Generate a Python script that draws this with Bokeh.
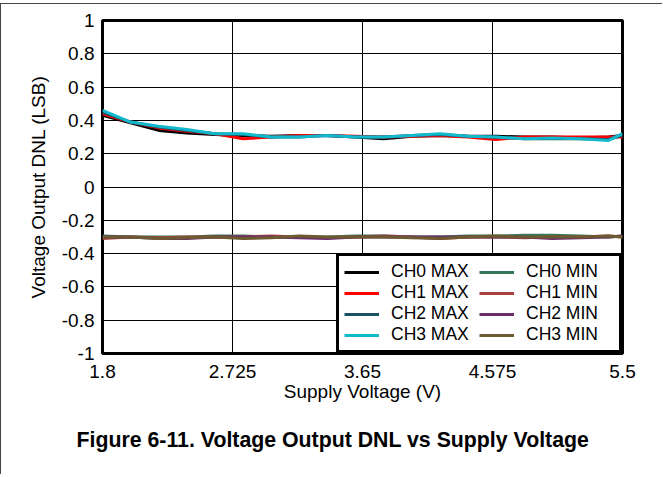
from bokeh.plotting import figure
from bokeh.models import FixedTicker, Legend, LegendItem, Title
from bokeh.embed import file_html
from bokeh.resources import INLINE

# ---- data ----
voltage = [1.8, 2.0, 2.2, 2.4, 2.6, 2.8, 3.0, 3.2, 3.4, 3.6, 3.8, 4.0, 4.2, 4.4, 4.6, 4.8, 5.0, 5.2, 5.4, 5.5]

ch0_max = [0.43, 0.385, 0.34, 0.325, 0.315, 0.31, 0.305, 0.31, 0.31, 0.30, 0.29, 0.305, 0.31, 0.305, 0.305, 0.30, 0.30, 0.295, 0.30, 0.31]
ch1_max = [0.44, 0.39, 0.355, 0.335, 0.32, 0.29, 0.30, 0.31, 0.31, 0.305, 0.30, 0.305, 0.31, 0.30, 0.285, 0.30, 0.30, 0.30, 0.30, 0.30]
ch2_max = [0.45, 0.39, 0.36, 0.34, 0.32, 0.315, 0.30, 0.30, 0.31, 0.30, 0.30, 0.31, 0.315, 0.305, 0.30, 0.29, 0.29, 0.29, 0.285, 0.31]
ch3_max = [0.46, 0.39, 0.365, 0.345, 0.32, 0.32, 0.30, 0.30, 0.31, 0.30, 0.30, 0.31, 0.32, 0.305, 0.30, 0.29, 0.295, 0.29, 0.28, 0.32]

ch0_min = [-0.295, -0.30, -0.30, -0.30, -0.295, -0.295, -0.30, -0.30, -0.30, -0.295, -0.295, -0.30, -0.30, -0.295, -0.295, -0.29, -0.29, -0.295, -0.30, -0.295]
ch1_min = [-0.31, -0.30, -0.305, -0.30, -0.30, -0.30, -0.295, -0.30, -0.305, -0.30, -0.295, -0.30, -0.31, -0.30, -0.30, -0.305, -0.30, -0.30, -0.295, -0.30]
ch2_min = [-0.30, -0.30, -0.31, -0.31, -0.30, -0.30, -0.30, -0.305, -0.31, -0.30, -0.30, -0.30, -0.30, -0.30, -0.30, -0.30, -0.31, -0.305, -0.30, -0.295]
ch3_min = [-0.30, -0.30, -0.31, -0.305, -0.30, -0.31, -0.305, -0.295, -0.30, -0.30, -0.30, -0.305, -0.31, -0.30, -0.295, -0.30, -0.30, -0.30, -0.295, -0.30]

series_names = ["CH0 MAX", "CH1 MAX", "CH2 MAX", "CH3 MAX", "CH0 MIN", "CH1 MIN", "CH2 MIN", "CH3 MIN"]
series_values = [ch0_max, ch1_max, ch2_max, ch3_max, ch0_min, ch1_min, ch2_min, ch3_min]
series_colors = ["#000000", "#FF0000", "#1B5062", "#12B8CC", "#34795A", "#A8423C", "#6A2D6C", "#6E5A30"]

x_ticks = [1.8, 2.725, 3.65, 4.575, 5.5]
x_tick_labels = ["1.8", "2.725", "3.65", "4.575", "5.5"]
y_ticks = [-1, -0.8, -0.6, -0.4, -0.2, 0, 0.2, 0.4, 0.6, 0.8, 1]
y_tick_labels = ["-1", "-0.8", "-0.6", "-0.4", "-0.2", "0", "0.2", "0.4", "0.6", "0.8", "1"]

x_title = "Supply Voltage (V)"
y_title = "Voltage Output DNL (LSB)"
caption = "Figure 6-11. Voltage Output DNL vs Supply Voltage"

FONT = "Liberation Sans"

p = figure(width=662, height=471, x_range=(1.8, 5.5), y_range=(-1, 1),
           output_backend="svg", toolbar_location=None,
           min_border_left=101, min_border_right=41, min_border_top=16, min_border_bottom=122)
# page frame lines (top and left) drawn as a shadow so that they take no layout space
p.styles = {"position": "absolute", "left": "1px", "top": "4px",
            "box-shadow": "-1px -1px 0px 0px #444444"}

p.background_fill_color = "white"
p.border_fill_color = "white"
p.outline_line_color = "black"
p.outline_line_width = 3

# axes
p.xaxis.ticker = FixedTicker(ticks=x_ticks)
p.yaxis.ticker = FixedTicker(ticks=y_ticks)
p.xaxis.major_label_overrides = dict(zip(x_ticks, x_tick_labels))
p.yaxis.major_label_overrides = dict(zip(y_ticks, y_tick_labels))
for ax in (p.xaxis, p.yaxis):
    ax.axis_line_color = None
    ax.major_tick_line_color = None
    ax.minor_tick_line_color = None
    ax.major_tick_out = 0
    ax.major_tick_in = 0
    ax.major_label_text_font = FONT
    ax.major_label_text_font_size = "19px"
    ax.major_label_text_color = "black"
    ax.axis_label_text_font = FONT
    ax.axis_label_text_font_size = "19px"
    ax.axis_label_text_font_style = "normal"
    ax.axis_label_text_color = "black"
p.xaxis.axis_label = x_title
p.yaxis.axis_label = y_title
p.xaxis.major_label_standoff = 11
p.yaxis.major_label_standoff = 8
p.xaxis.axis_label_standoff = 0
p.yaxis.axis_label_standoff = 10

p.xgrid.ticker = FixedTicker(ticks=x_ticks)
p.ygrid.ticker = FixedTicker(ticks=y_ticks)
p.grid.grid_line_color = "black"
p.grid.grid_line_width = 1
p.grid.grid_line_alpha = 1.0

# lines
renderers = []
for vals, col in zip(series_values, series_colors):
    r = p.line(voltage, vals, line_color=col, line_width=3)
    renderers.append(r)

items = [LegendItem(label=n, renderers=[r]) for n, r in zip(series_names, renderers)]
legend = Legend(items=items, location="bottom_right", ncols=2,
                orientation="vertical",
                label_text_font=FONT, label_text_font_size="17.5px",
                label_text_color="black",
                glyph_width=35, glyph_height=16, label_height=16,
                label_width=88,
                label_standoff=12, spacing=0, padding=5, margin=0,
                border_line_color="black", border_line_width=3, border_line_alpha=1.0,
                background_fill_color="white", background_fill_alpha=1.0)
p.add_layout(legend, "center")

title = Title(text=caption, align="left", offset=-26, standoff=42,
              text_font=FONT, text_font_size="21.3px", text_font_style="bold",
              text_color="black")
p.add_layout(title, "below")

open("out.html", "w").write(file_html(p, INLINE))
